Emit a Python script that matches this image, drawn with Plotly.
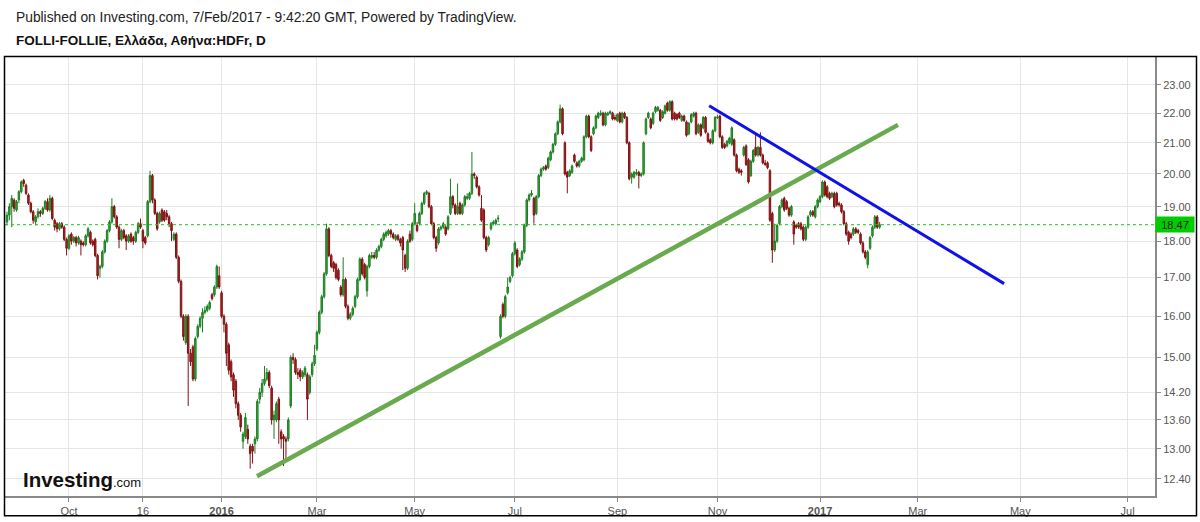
import numpy as np
import pandas as pd
import plotly.graph_objects as go

# ---------------- data ----------------
holidays = ["2015-10-28", "2015-12-25", "2016-01-01", "2016-01-06", "2016-03-14",
            "2016-03-25", "2016-04-29", "2016-05-02", "2016-06-20", "2016-08-15",
            "2016-10-28", "2016-12-26", "2017-01-06"]
first_day = "2015-08-26"
last_day = "2017-02-07"

opens = [
    18.55, 18.75, 19.00, 19.20, 18.90, 19.20, 19.45, 19.80, 19.65, 19.35,
    19.10, 18.85, 18.55, 18.70, 18.85, 18.80, 18.95, 19.15, 18.90, 19.25,
    18.60, 18.50, 18.35, 18.50, 18.40, 18.05, 17.80, 18.20, 18.00, 18.10,
    17.95, 18.00, 17.95, 17.90, 18.15, 18.25, 18.00, 18.05, 17.60, 17.25,
    17.30, 17.70, 18.00, 18.30, 18.55, 19.00, 18.70, 18.40, 18.05, 18.30,
    18.15, 18.00, 18.20, 18.10, 18.00, 18.25, 18.50, 18.30, 18.10, 18.15,
    19.15, 19.95, 19.20, 18.80, 18.55, 18.90, 18.85, 18.80, 18.70, 18.50,
    18.05, 18.20, 17.55, 16.90, 16.00, 15.35, 16.00, 15.10, 15.25, 14.50,
    15.50, 15.75, 15.95, 16.10, 16.15, 16.20, 16.55, 16.55, 16.75, 17.05,
    16.60, 16.00, 15.80, 15.30, 14.90, 14.60, 14.45, 13.95, 13.70, 13.15,
    13.25, 13.40, 13.05, 13.05, 13.10, 13.20, 14.05, 14.20, 14.40, 14.50,
    14.65, 14.30, 13.60, 13.60, 14.05, 13.35, 13.25, 13.20, 13.20, 13.90,
    15.00, 14.95, 14.65, 14.70, 14.55, 14.60, 14.60, 14.20, 14.60, 14.85,
    15.20, 15.60, 16.10, 16.50, 17.10, 18.35, 17.60, 17.40, 17.35, 17.20,
    16.75, 16.55, 16.95, 16.25, 15.95, 16.05, 16.25, 16.50, 16.95, 17.50,
    17.35, 16.65, 17.30, 17.55, 17.60, 17.55, 17.75, 17.85, 18.05, 18.15,
    18.20, 18.30, 18.20, 18.05, 18.15, 18.05, 18.10, 17.60, 17.25, 18.20,
    18.05, 18.50, 18.45, 18.50, 18.80, 19.10, 19.40, 19.40, 19.00, 18.50,
    18.10, 17.95, 18.35, 18.40, 18.40, 18.35, 18.80, 19.30, 19.05, 18.80,
    19.10, 18.80, 19.05, 19.25, 19.25, 19.40, 20.00, 19.90, 19.60, 18.95,
    18.90, 18.10, 17.90, 18.35, 18.50, 18.50, 18.64, 15.50, 16.30, 16.00,
    16.60, 16.90, 17.05, 17.65, 17.75, 17.35, 17.50, 17.70, 18.45, 19.20,
    19.35, 19.25, 18.80, 19.30, 19.95, 20.15, 20.25, 20.20, 20.45, 20.70,
    20.95, 21.30, 21.70, 22.15, 21.00, 20.05, 19.95, 20.05, 20.60, 20.35,
    20.25, 20.40, 20.45, 21.20, 21.90, 21.20, 21.30, 21.50, 21.85, 21.95,
    22.00, 21.60, 21.95, 22.00, 22.00, 21.85, 21.75, 22.00, 21.70, 22.00,
    21.85, 21.00, 19.90, 19.90, 20.00, 20.05, 19.95, 20.00, 21.30, 21.85,
    21.80, 21.65, 22.05, 22.10, 22.10, 21.85, 22.00, 22.35, 22.10, 22.40,
    22.00, 21.95, 22.00, 21.75, 21.90, 21.70, 21.30, 21.70, 21.90, 22.00,
    21.35, 21.60, 21.50, 21.85, 21.30, 21.10, 21.00, 21.40, 21.85, 21.90,
    21.20, 20.95, 20.90, 21.00, 20.95, 21.10, 20.60, 20.15, 20.10, 20.60,
    20.90, 20.45, 19.95, 20.40, 20.85, 20.60, 20.85, 20.60, 20.35, 20.35,
    20.10, 18.80, 17.75, 18.00, 18.50, 19.00, 19.25, 19.15, 18.95, 18.75,
    18.55, 18.45, 18.50, 18.50, 18.40, 18.05, 18.40, 18.75, 18.85, 18.70,
    19.00, 19.15, 19.30, 19.75, 19.60, 19.40, 19.30, 19.40, 19.40, 19.10,
    19.05, 18.85, 18.50, 18.25, 18.20, 18.20, 18.35, 18.30, 18.20, 17.95,
    17.70, 17.35, 17.80, 18.15, 18.40, 18.70, 18.40,
]
closes = [
    18.75, 19.00, 19.25, 18.95, 19.15, 19.45, 19.75, 19.70, 19.40, 19.10,
    18.85, 18.60, 18.70, 18.85, 18.80, 18.95, 19.15, 18.90, 19.25, 18.65,
    18.40, 18.35, 18.50, 18.40, 18.05, 17.80, 18.15, 18.00, 18.10, 17.95,
    18.10, 17.90, 17.90, 18.15, 18.35, 17.95, 17.90, 17.60, 17.05, 17.30,
    17.70, 18.00, 18.30, 18.55, 19.00, 18.70, 18.40, 18.05, 18.30, 18.10,
    18.00, 18.15, 18.00, 18.00, 18.25, 18.50, 18.40, 18.00, 17.95, 19.15,
    19.95, 19.20, 18.80, 18.35, 18.80, 18.60, 18.60, 18.70, 18.50, 18.30,
    18.20, 17.55, 16.90, 16.00, 15.50, 16.00, 15.10, 14.90, 14.50, 15.45,
    15.75, 15.95, 16.10, 16.15, 16.25, 16.35, 16.45, 16.75, 17.30, 16.75,
    16.00, 15.80, 15.10, 14.70, 14.55, 14.25, 13.95, 13.70, 13.45, 13.30,
    13.65, 13.20, 12.90, 12.95, 13.20, 14.00, 14.20, 14.40, 14.50, 14.65,
    14.35, 13.60, 13.70, 13.95, 13.60, 13.20, 13.20, 13.15, 13.60, 15.00,
    14.95, 14.65, 14.60, 14.55, 14.65, 14.75, 14.05, 14.55, 14.85, 15.05,
    15.60, 16.10, 16.50, 17.10, 18.35, 17.60, 17.30, 17.25, 17.00, 16.95,
    16.55, 16.95, 16.25, 15.95, 16.05, 16.20, 16.50, 16.95, 17.50, 17.10,
    17.00, 17.30, 17.60, 17.60, 17.55, 17.75, 17.85, 18.05, 18.20, 18.25,
    18.30, 18.20, 18.10, 18.15, 18.05, 17.95, 17.75, 17.25, 18.00, 18.00,
    18.50, 18.80, 18.30, 18.80, 19.10, 19.40, 19.45, 19.00, 18.50, 18.10,
    17.80, 18.35, 18.40, 18.50, 18.20, 18.70, 19.30, 19.05, 18.80, 19.00,
    18.80, 19.05, 19.30, 19.30, 19.40, 20.00, 19.95, 19.60, 19.35, 18.60,
    18.10, 17.75, 18.10, 18.50, 18.55, 18.60, 18.66, 16.00, 16.00, 16.50,
    16.75, 17.00, 17.65, 17.95, 17.30, 17.50, 17.70, 18.45, 19.20, 19.35,
    19.40, 18.75, 19.30, 19.95, 20.15, 20.20, 20.15, 20.50, 20.70, 20.95,
    21.30, 21.70, 22.15, 21.30, 20.00, 19.90, 20.10, 20.25, 20.40, 20.25,
    20.40, 20.50, 21.20, 21.90, 21.20, 20.75, 21.50, 21.90, 22.00, 22.00,
    21.60, 22.00, 22.00, 22.05, 21.80, 21.80, 21.95, 21.70, 22.00, 21.85,
    21.00, 19.85, 20.00, 20.05, 20.05, 19.95, 20.00, 21.00, 21.80, 22.00,
    21.50, 22.00, 22.20, 22.20, 21.75, 22.05, 22.25, 22.10, 22.40, 21.80,
    21.80, 21.80, 21.85, 21.90, 21.75, 21.25, 21.65, 21.95, 22.00, 21.30,
    21.60, 21.25, 21.85, 21.35, 21.05, 21.00, 21.40, 21.85, 21.87, 21.20,
    20.85, 20.85, 21.05, 21.15, 21.50, 20.60, 20.10, 20.05, 20.05, 20.85,
    20.30, 19.75, 20.40, 20.75, 20.60, 20.85, 20.60, 20.35, 20.30, 20.20,
    18.60, 17.75, 18.00, 18.45, 19.00, 19.20, 18.90, 18.95, 18.75, 19.00,
    18.20, 18.40, 18.40, 18.35, 18.05, 18.40, 18.70, 18.85, 18.75, 19.00,
    19.20, 19.30, 19.75, 19.35, 19.30, 19.25, 19.40, 19.00, 19.05, 19.05,
    18.85, 18.50, 18.20, 18.00, 18.10, 18.35, 18.25, 18.25, 17.95, 17.70,
    17.55, 17.70, 18.10, 18.40, 18.70, 18.40, 18.47,
]
highs = [
    18.85, 19.10, 19.35, 19.25, 19.20, 19.50, 19.80, 19.85, 19.70, 19.40,
    19.15, 18.90, 18.75, 18.95, 18.90, 19.00, 19.20, 19.25, 19.35, 19.30,
    18.65, 18.55, 18.55, 18.55, 18.45, 18.10, 18.20, 18.25, 18.15, 18.15,
    18.15, 18.05, 18.00, 18.20, 18.40, 18.30, 18.05, 18.10, 17.65, 17.35,
    17.75, 18.05, 18.35, 18.60, 19.25, 19.05, 18.75, 18.45, 18.35, 18.35,
    18.20, 18.20, 18.25, 18.15, 18.30, 18.55, 18.65, 18.35, 18.15, 19.20,
    20.10, 20.00, 19.25, 18.85, 18.85, 18.95, 18.90, 18.90, 18.75, 18.55,
    18.25, 18.25, 17.60, 16.95, 16.05, 16.05, 16.05, 15.20, 15.30, 15.50,
    15.80, 16.00, 16.20, 16.25, 16.30, 16.40, 16.60, 16.80, 17.35, 17.30,
    16.65, 16.05, 15.85, 15.35, 14.95, 14.65, 14.50, 14.00, 13.75, 13.35,
    13.75, 13.50, 13.10, 13.10, 13.25, 14.05, 14.30, 14.50, 14.80, 14.75,
    14.70, 14.35, 13.80, 14.00, 14.10, 13.40, 13.30, 13.25, 13.65, 15.05,
    15.10, 15.00, 14.75, 14.75, 14.70, 14.80, 14.65, 14.60, 14.90, 15.30,
    15.65, 16.15, 16.55, 17.15, 18.50, 18.40, 17.65, 17.45, 17.40, 17.25,
    16.80, 17.55, 17.00, 16.30, 16.10, 16.25, 16.55, 17.00, 17.55, 17.55,
    17.40, 17.35, 17.65, 17.70, 17.70, 17.80, 17.90, 18.10, 18.25, 18.30,
    18.35, 18.35, 18.25, 18.20, 18.20, 18.10, 18.15, 17.65, 18.05, 18.30,
    18.55, 19.10, 18.55, 18.85, 19.15, 19.45, 19.50, 19.45, 19.05, 18.55,
    18.15, 18.40, 18.45, 18.55, 18.45, 18.75, 19.85, 19.35, 19.10, 19.70,
    19.15, 19.10, 19.35, 19.40, 19.45, 20.70, 20.05, 19.95, 19.65, 19.35,
    18.95, 18.15, 18.15, 18.55, 18.60, 18.65, 18.75, 16.05, 16.35, 16.55,
    17.00, 17.05, 17.70, 18.00, 17.80, 17.55, 17.75, 18.50, 19.25, 19.40,
    19.50, 19.30, 19.35, 20.00, 20.20, 20.25, 20.30, 20.55, 20.75, 21.00,
    21.35, 21.75, 22.30, 22.20, 21.05, 20.10, 20.15, 20.30, 20.65, 20.40,
    20.45, 20.55, 21.25, 21.95, 21.95, 21.25, 21.55, 21.95, 22.05, 22.10,
    22.05, 22.05, 22.05, 22.10, 22.05, 21.95, 22.00, 22.05, 22.05, 22.05,
    21.90, 21.05, 20.05, 20.10, 20.15, 20.10, 20.05, 21.05, 21.85, 22.05,
    21.85, 22.05, 22.25, 22.25, 22.15, 22.10, 22.30, 22.40, 22.45, 22.45,
    22.05, 22.00, 22.05, 21.95, 21.95, 21.75, 21.70, 22.00, 22.05, 22.05,
    21.65, 21.65, 21.90, 21.90, 21.35, 21.15, 21.45, 21.90, 21.95, 21.95,
    21.25, 21.00, 21.10, 21.20, 21.55, 21.15, 20.65, 20.20, 20.15, 20.90,
    20.95, 20.50, 20.45, 20.80, 21.30, 20.90, 21.35, 20.65, 20.45, 20.40,
    20.15, 18.85, 18.50, 18.50, 19.05, 19.25, 19.30, 19.20, 19.00, 19.05,
    18.60, 18.50, 18.55, 18.55, 18.45, 18.45, 18.75, 18.90, 18.90, 19.05,
    19.25, 19.35, 19.80, 19.80, 19.65, 19.45, 19.45, 19.45, 19.45, 19.15,
    19.10, 18.90, 18.55, 18.30, 18.25, 18.40, 18.40, 18.35, 18.25, 18.00,
    17.75, 17.75, 18.15, 18.45, 18.75, 18.75, 18.55,
]
lows = [
    18.45, 18.60, 18.40, 18.85, 18.85, 19.10, 19.40, 19.60, 19.35, 19.05,
    18.80, 18.50, 18.45, 18.65, 18.70, 18.75, 18.90, 18.85, 18.85, 18.60,
    18.30, 18.25, 18.30, 18.35, 18.00, 17.60, 17.75, 17.90, 17.95, 17.85,
    17.90, 17.60, 17.85, 17.85, 18.10, 17.90, 17.85, 17.55, 16.95, 17.00,
    17.25, 17.65, 17.95, 18.25, 18.50, 18.65, 18.35, 17.80, 18.00, 18.05,
    17.75, 17.95, 17.95, 17.90, 17.95, 18.20, 18.35, 17.80, 17.90, 18.10,
    19.10, 19.10, 18.75, 18.30, 18.50, 18.55, 18.55, 18.60, 18.40, 18.00,
    18.00, 17.50, 16.85, 15.95, 15.40, 15.30, 13.90, 14.80, 14.45, 14.45,
    15.45, 15.70, 15.60, 16.05, 16.10, 16.15, 16.40, 16.50, 16.70, 16.70,
    15.95, 15.60, 14.80, 14.60, 14.45, 14.10, 13.85, 13.60, 13.35, 13.00,
    13.20, 13.10, 12.60, 12.70, 12.90, 13.15, 13.95, 14.10, 14.35, 14.45,
    14.30, 13.50, 13.20, 13.55, 13.10, 13.00, 12.65, 12.75, 13.15, 13.85,
    14.85, 14.60, 14.50, 14.45, 14.50, 14.55, 13.60, 14.15, 14.55, 14.80,
    15.15, 15.55, 16.05, 16.45, 17.05, 17.55, 17.25, 17.15, 16.95, 16.90,
    16.50, 16.50, 16.20, 15.90, 15.90, 16.00, 16.20, 16.45, 16.90, 17.05,
    16.95, 16.50, 17.25, 17.50, 17.50, 17.50, 17.70, 17.80, 18.00, 18.10,
    18.15, 18.10, 18.05, 18.00, 18.00, 17.85, 17.20, 17.15, 17.20, 17.95,
    18.00, 18.45, 18.25, 18.45, 18.75, 19.05, 19.35, 18.95, 18.45, 18.05,
    17.70, 17.90, 18.30, 18.35, 18.15, 18.30, 18.75, 18.95, 18.75, 18.75,
    18.75, 18.75, 19.00, 19.20, 19.20, 19.35, 19.85, 19.55, 19.30, 18.55,
    18.05, 17.70, 17.85, 18.30, 18.45, 18.45, 18.55, 15.45, 15.95, 15.95,
    16.55, 16.85, 17.00, 17.60, 17.25, 17.30, 17.45, 17.65, 18.40, 19.15,
    19.30, 18.50, 18.75, 19.25, 19.90, 20.10, 20.10, 20.15, 20.40, 20.65,
    20.90, 21.25, 21.65, 21.25, 19.95, 19.40, 19.90, 20.00, 20.35, 20.20,
    20.20, 20.35, 20.40, 21.15, 21.15, 20.70, 21.25, 21.45, 21.80, 21.90,
    21.55, 21.55, 21.90, 21.95, 21.75, 21.75, 21.70, 21.65, 21.65, 21.80,
    20.95, 19.80, 19.70, 19.85, 19.95, 19.55, 19.90, 19.95, 21.25, 21.80,
    21.45, 21.60, 22.00, 22.05, 21.70, 21.80, 21.95, 22.05, 22.05, 21.75,
    21.75, 21.75, 21.80, 21.70, 21.70, 21.20, 21.25, 21.65, 21.85, 21.25,
    21.30, 21.20, 21.45, 21.30, 21.00, 20.95, 20.95, 21.35, 21.80, 21.15,
    20.80, 20.80, 20.85, 20.95, 20.90, 20.55, 20.05, 20.00, 19.95, 20.55,
    20.25, 19.70, 19.90, 20.35, 20.55, 20.55, 20.55, 20.30, 20.25, 20.15,
    18.55, 17.40, 17.70, 17.95, 18.45, 18.95, 18.85, 18.90, 18.70, 18.70,
    17.90, 18.35, 18.35, 18.30, 18.00, 18.00, 18.35, 18.70, 18.70, 18.65,
    18.95, 19.10, 19.25, 19.30, 19.25, 19.20, 19.25, 18.95, 19.00, 19.00,
    18.80, 18.45, 18.15, 17.90, 18.05, 18.15, 18.20, 18.20, 17.90, 17.65,
    17.50, 17.25, 17.75, 18.10, 18.35, 18.35, 18.35,
]

last_price = 18.47

# drawn trend lines (date, price) end points
green_line_x = ["2016-01-26 09:00", "2017-02-17 05:00"]
green_line_y = [12.45, 21.60]
blue_line_x = ["2016-10-26 00:00", "2017-04-20 17:00"]
blue_line_y = [22.26, 16.84]

x_tick_dates = ["2015-10-01", "2015-11-16", "2016-01-04", "2016-03-01", "2016-05-03",
                "2016-07-01", "2016-09-01", "2016-11-01", "2017-01-02", "2017-03-01",
                "2017-05-01", "2017-07-03"]
x_tick_labels = ["Oct", "16", "<b>2016</b>", "Mar", "May", "Jul", "Sep", "Nov",
                 "<b>2017</b>", "Mar", "May", "Jul"]
y_tick_values = [12.4, 13.0, 13.6, 14.2, 15.0, 16.0, 17.0, 18.0, 19.0, 20.0, 21.0, 22.0, 23.0]
y_tick_labels = ["12.40", "13.00", "13.60", "14.20", "15.00", "16.00", "17.00",
                 "18.00", "19.00", "20.00", "21.00", "22.00", "23.00"]

# ---------------- build ----------------
hol_set = set(holidays)
days = [d for d in pd.bdate_range(first_day, last_day) if d.strftime("%Y-%m-%d") not in hol_set]
n = min(len(days), len(opens), len(closes), len(highs), len(lows))
bar_x = [d + pd.Timedelta(hours=12) for d in days[:n]]
tick_x = [pd.Timestamp(d) + pd.Timedelta(hours=12) for d in x_tick_dates]

FONT = "Arial, Liberation Sans, sans-serif"
GRID = "#e6e6e6"
AXIS = "#8a8a8a"

fig = go.Figure()
fig.add_trace(go.Candlestick(
    x=bar_x, open=opens[:n], high=highs[:n], low=lows[:n], close=closes[:n],
    increasing=dict(line=dict(color="#1d7d22", width=1), fillcolor="#33a83a"),
    decreasing=dict(line=dict(color="#7d1212", width=1), fillcolor="#b81e1e"),
    whiskerwidth=0, hoverinfo="skip", showlegend=False,
))
x_start = "2015-08-25 16:00"
x_end = "2017-07-19 00:00"
fig.add_trace(go.Scatter(
    x=[x_start, x_end], y=[last_price, last_price], mode="lines",
    line=dict(color="#19c819", width=1, dash="dot"), hoverinfo="skip", showlegend=False,
))
fig.add_trace(go.Scatter(
    x=green_line_x, y=green_line_y, mode="lines",
    line=dict(color="#6aaa4f", width=4.5), hoverinfo="skip", showlegend=False,
))
fig.add_trace(go.Scatter(
    x=blue_line_x, y=blue_line_y, mode="lines",
    line=dict(color="#1010e8", width=3), hoverinfo="skip", showlegend=False,
))

L, R, T, B = 5, 45, 57, 23
W, H = 1200, 522
pw, ph = W - L - R, H - T - B


def px_x(x):
    return (x - L) / pw


def px_y(y):
    return (H - B - y) / ph


fig.update_layout(
    width=W, height=H,
    margin=dict(l=L, r=R, t=T, b=B, pad=0),
    paper_bgcolor="white", plot_bgcolor="white",
    showlegend=False,
    boxgap=0.12,
    font=dict(family=FONT, size=11, color="#555555"),
    xaxis=dict(
        type="date", range=[x_start, x_end],
        rangebreaks=[dict(bounds=["sat", "mon"]), dict(values=holidays)],
        rangeslider=dict(visible=False),
        tickmode="array", tickvals=tick_x, ticktext=x_tick_labels,
        showgrid=True, gridcolor=GRID, gridwidth=1,
        showline=True, linecolor=AXIS, linewidth=2,
        ticks="outside", ticklen=4, tickcolor=AXIS,
        tickfont=dict(family=FONT, size=11, color="#555555"),
        zeroline=False, fixedrange=True,
    ),
    yaxis=dict(
        type="log", side="right",
        range=[1.08172, 1.38067],
        tickmode="array", tickvals=y_tick_values, ticktext=y_tick_labels,
        showgrid=True, gridcolor=GRID, gridwidth=1,
        showline=True, linecolor=AXIS, linewidth=2,
        ticks="outside", ticklen=4, tickcolor=AXIS,
        tickfont=dict(family=FONT, size=11, color="#555555"),
        zeroline=False, fixedrange=True,
    ),
)

annotations = [
    dict(xref="paper", yref="paper", x=px_x(14), y=px_y(17), xanchor="left", yanchor="middle",
         text="Published on Investing.com, 7/Feb/2017 - 9:42:20 GMT, Powered by TradingView.",
         showarrow=False, font=dict(family=FONT, size=13.8, color="#222222")),
    dict(xref="paper", yref="paper", x=px_x(14), y=px_y(40), xanchor="left", yanchor="middle",
         text="<b>FOLLI-FOLLIE, Ελλάδα, Αθήνα:HDFr, D</b>",
         showarrow=False, font=dict(family=FONT, size=13.5, color="#111111")),
    dict(xref="paper", yref="paper", x=px_x(21), y=px_y(482), xanchor="left", yanchor="middle",
         text="<b>Investing</b><span style='font-size:13px'>.com</span>",
         showarrow=False, font=dict(family=FONT, size=20.5, color="#111111")),
    dict(xref="paper", yref="y", x=1.0, y=float(np.log10(last_price)), xanchor="left", yanchor="middle",
         text="18.47", showarrow=False, bgcolor="#00cc00", borderpad=1, width=36, height=13,
         font=dict(family=FONT, size=11, color="#1a1a1a")),
]
fig.update_layout(annotations=annotations)

fig.add_shape(type="rect", xref="paper", yref="paper",
              x0=px_x(4.5), x1=px_x(1196.5), y0=px_y(519), y1=px_y(56.5),
              line=dict(color="#000000", width=1.5), fillcolor="rgba(0,0,0,0)", layer="above")

fig.write_html("out.html")
